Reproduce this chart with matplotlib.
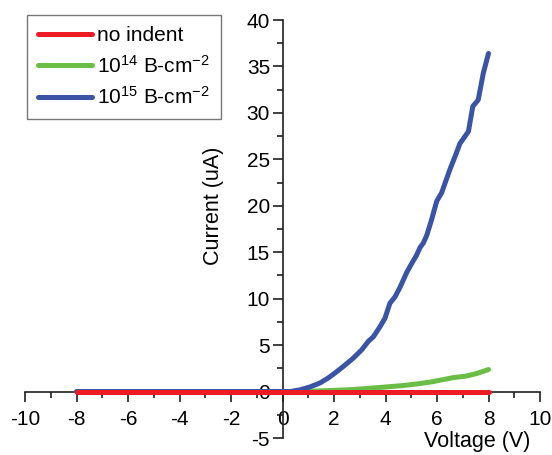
import matplotlib
matplotlib.use("Agg")
import matplotlib.pyplot as plt
from matplotlib.ticker import MultipleLocator

plt.rcParams['font.family'] = ['Liberation Sans', 'DejaVu Sans']
plt.rcParams['mathtext.fontset'] = 'custom'
plt.rcParams['mathtext.rm'] = 'Liberation Sans'
plt.rcParams['mathtext.it'] = 'Liberation Sans:italic'
plt.rcParams['mathtext.bf'] = 'Liberation Sans:bold'

# Data (Voltage in V, Current in uA)
v_none = [-8, -4, 0, 4, 8]
i_none = [0, 0, 0, 0, 0]

v_e14 = [-8, -4, 0, 0.8, 1.46, 2.1, 2.75, 3.4, 4.05, 4.69, 5.34, 5.8, 6.12, 6.63, 7.1, 7.54, 8.0]
i_e14 = [0, 0, 0, 0.02, 0.07, 0.14, 0.22, 0.36, 0.5, 0.65, 0.86, 1.05, 1.22, 1.5, 1.65, 1.94, 2.37]

v_e15 = [-8, -4, 0, 0.3, 0.7, 1.07, 1.46, 1.78, 2.04, 2.36, 2.75, 3.08, 3.33, 3.53, 3.79, 3.98,
         4.17, 4.37, 4.56, 4.82, 5.02, 5.21, 5.34, 5.47, 5.6, 5.79, 5.99, 6.18, 6.5, 6.7, 6.89,
         7.22, 7.39, 7.6, 7.8, 8.0]
i_e15 = [0, 0, 0, 0, 0.2, 0.5, 0.93, 1.47, 2.0, 2.7, 3.6, 4.5, 5.4, 5.9, 7.0, 7.9,
         9.5, 10.2, 11.2, 12.8, 13.8, 14.7, 15.5, 16.0, 16.8, 18.5, 20.5, 21.4, 23.9, 25.3, 26.7,
         28.0, 30.7, 31.4, 34.3, 36.4]

labels = ['no indent', r'10$^{14}$ B-cm$^{-2}$', r'10$^{15}$ B-cm$^{-2}$']
colors = ['#ED1C24', '#6ABD45', '#3A53A4']
x_ticks = list(range(-10, 11, 2))
y_ticks = list(range(-5, 41, 5))

fig = plt.figure(figsize=(5.52, 4.55), dpi=100)
ax = fig.add_axes([25/552, 17/455, 515/552, 418/455])

lw = 3.6
l1, = ax.plot(v_none, i_none, color=colors[0], lw=lw, zorder=5, solid_capstyle='round', label=labels[0])
l2, = ax.plot(v_e14, i_e14, color=colors[1], lw=lw, zorder=3, solid_capstyle='round', label=labels[1])
l3, = ax.plot(v_e15, i_e15, color=colors[2], lw=lw, zorder=4, solid_capstyle='round', label=labels[2])

ax.set_xlim(-10, 10)
ax.set_ylim(-5, 40)
ax.spines['left'].set_position(('data', 0))
ax.spines['bottom'].set_position(('data', 0))
ax.spines['top'].set_visible(False)
ax.spines['right'].set_visible(False)
for s in ['left', 'bottom']:
    ax.spines[s].set_linewidth(1.2)
    ax.spines[s].set_color('#231F20')

ax.set_xticks(x_ticks)
ax.set_xticklabels([str(t) for t in x_ticks])
ax.set_yticks(y_ticks)
ax.set_yticklabels([str(t) for t in y_ticks])
ax.xaxis.set_minor_locator(MultipleLocator(1))
ax.yaxis.set_minor_locator(MultipleLocator(2.5))
ax.tick_params(which='major', length=7, width=1.2, color='#231F20', labelsize=15, direction='out')
ax.tick_params(which='minor', length=4, width=1.2, color='#231F20', direction='out')
ax.tick_params(axis='x', which='major', pad=6)
ax.tick_params(axis='y', which='major', pad=2)

ax.set_xlabel('Voltage (V)', fontsize=15.5)
ax.xaxis.set_label_coords((477 - 25) / 515, (438 - 431) / 418)
ax.set_ylabel('Current (uA)', fontsize=15.5)
ax.yaxis.set_label_coords((224 - 25) / 515, (438 - 206) / 418)

leg = fig.legend(handles=[l1, l2, l3], loc='upper left', bbox_to_anchor=(27/552, 1 - 15/455),
                 fontsize=15, frameon=True, fancybox=False, handlelength=2.55,
                 borderpad=0.55, labelspacing=0.45, handletextpad=0.25, borderaxespad=0)
leg.get_frame().set_edgecolor('#555555')
leg.get_frame().set_linewidth(1.0)

fig.savefig('out.png', dpi=100)
